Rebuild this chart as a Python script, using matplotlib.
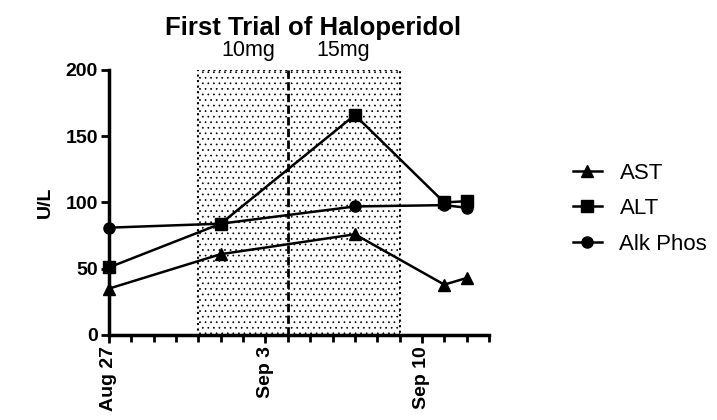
import matplotlib
matplotlib.use("Agg")
import matplotlib.pyplot as plt
import matplotlib.dates as mdates
import numpy as np
import datetime as dt

plt.rcParams['font.family'] = ['Liberation Sans', 'DejaVu Sans']
plt.rcParams['hatch.linewidth'] = 0.5

# data
ast_dates = ["2023-08-27", "2023-09-01", "2023-09-07", "2023-09-11", "2023-09-12"]
ast = [35, 61, 76, 38, 43]
alt_dates = ["2023-08-27", "2023-09-01", "2023-09-07", "2023-09-11", "2023-09-12"]
alt = [51, 84, 166, 100, 101]
alk_dates = ["2023-08-27", "2023-09-01", "2023-09-07", "2023-09-11", "2023-09-12"]
alk = [81, 84, 97, 98, 96]

dose_start = "2023-08-31"
dose_switch = "2023-09-04"
dose_end = "2023-09-09"
dose_labels = ["10mg", "15mg"]


def d(s):
    return dt.datetime.strptime(s, "%Y-%m-%d")


fig = plt.figure(figsize=(7.17, 4.2), dpi=100)
ax = fig.add_axes([0.152, 0.2024, 0.530, 0.631])

ax.axvspan(d(dose_start), d(dose_end), facecolor='white', edgecolor='black',
           hatch='...', linestyle=':', linewidth=1.5, zorder=0)
ax.axvline(d(dose_switch), color='black', linestyle=(0, (3, 1.2)), linewidth=2, zorder=1)

ax.plot([d(s) for s in ast_dates], ast, color='black', marker='^', markersize=8,
        linewidth=1.8, label='AST', zorder=3, clip_on=False)
ax.plot([d(s) for s in alt_dates], alt, color='black', marker='s', markersize=8,
        linewidth=1.8, label='ALT', zorder=3, clip_on=False)
ax.plot([d(s) for s in alk_dates], alk, color='black', marker='o', markersize=8,
        linewidth=1.8, label='Alk Phos', zorder=3, clip_on=False)

ax.set_xlim(d("2023-08-27"), d("2023-09-13"))
ax.set_ylim(0, 200)
ax.set_yticks([0, 50, 100, 150, 200])

ax.xaxis.set_major_locator(mdates.DayLocator(bymonthday=[27, 3, 10]))
ax.xaxis.set_major_formatter(mdates.DateFormatter('%b %-d'))
ax.xaxis.set_minor_locator(mdates.DayLocator())

for s in ['top', 'right']:
    ax.spines[s].set_visible(False)
for s in ['left', 'bottom']:
    ax.spines[s].set_linewidth(2.5)

ax.tick_params(axis='both', which='major', width=2, length=6, labelsize=14, pad=2)
ax.tick_params(axis='x', which='minor', width=2, length=5)
for lab in ax.get_xticklabels():
    lab.set_rotation(90)
    lab.set_fontweight('bold')
for lab in ax.get_yticklabels():
    lab.set_fontweight('bold')

ax.set_ylabel('U/L', fontsize=14, fontweight='bold', labelpad=8)

fig.text(0.437, 0.933, 'First Trial of Haloperidol', ha='center', va='center',
         fontsize=18.5, fontweight='bold')
fig.text(0.347, 0.88, dose_labels[0], ha='center', va='center', fontsize=15.5)
fig.text(0.478, 0.88, dose_labels[1], ha='center', va='center', fontsize=15.5)

fig.legend(loc='center left', bbox_to_anchor=(0.771, 0.503), frameon=False,
           fontsize=16, handlelength=1.3, handletextpad=0.8, labelspacing=0.65)

fig.savefig('out.png', dpi=100)
